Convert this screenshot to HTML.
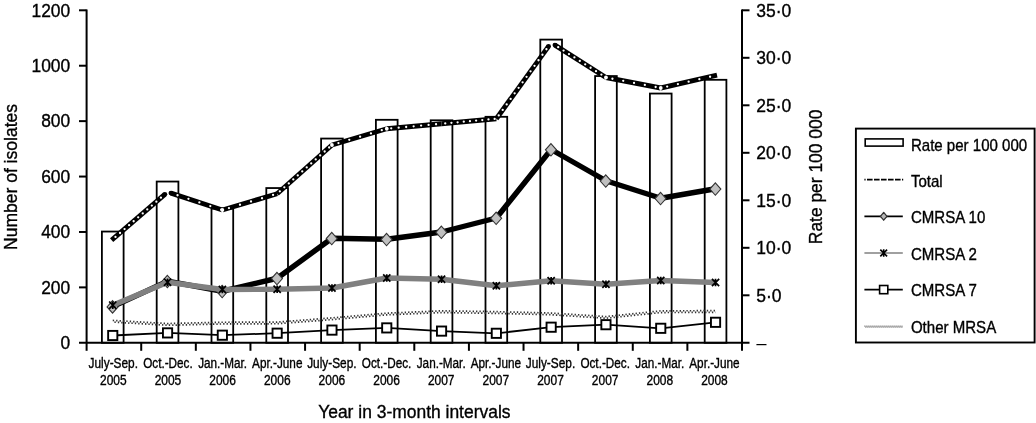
<!DOCTYPE html>
<html lang="en"><head><meta charset="utf-8"><title>MRSA isolates chart</title>
<style>
html,body{margin:0;padding:0;background:#fff;}
body{width:1036px;height:423px;overflow:hidden;}
svg{display:block;}
text{font-family:'Liberation Sans', Arial, Helvetica, sans-serif;fill:#000;stroke:#000;stroke-width:0.35px;}
svg{will-change:transform;}
</style></head><body>
<svg width="1036" height="423" viewBox="0 0 1036 423">
<rect width="1036" height="423" fill="#fff"/>

<g fill="#fff" stroke="#000" stroke-width="1.8">
<rect x="101.90" y="231.55" width="21.7" height="111.25"/>
<rect x="156.70" y="181.55" width="21.7" height="161.25"/>
<rect x="211.50" y="208.55" width="21.7" height="134.25"/>
<rect x="266.30" y="188.05" width="21.7" height="154.75"/>
<rect x="321.10" y="138.55" width="21.7" height="204.25"/>
<rect x="375.90" y="119.80" width="21.7" height="223.00"/>
<rect x="430.70" y="120.30" width="21.7" height="222.50"/>
<rect x="485.50" y="116.80" width="21.7" height="226.00"/>
<rect x="540.30" y="39.60" width="21.7" height="303.20"/>
<rect x="595.10" y="76.05" width="21.7" height="266.75"/>
<rect x="649.90" y="93.55" width="21.7" height="249.25"/>
<rect x="704.70" y="79.80" width="21.7" height="263.00"/>
</g>
<g stroke="#000" stroke-width="2" fill="none">
<path d="M86.6,9.600000000000001 V342.8"/>
<path d="M742.0,9.600000000000001 V342.8"/>
<path d="M79,342.8 H749.5"/>
<path d="M79,10.30 H86.6"/>
<path d="M79,65.72 H86.6"/>
<path d="M79,121.13 H86.6"/>
<path d="M79,176.55 H86.6"/>
<path d="M79,231.97 H86.6"/>
<path d="M79,287.38 H86.6"/>
<path d="M742.0,10.30 H749.5"/>
<path d="M742.0,57.80 H749.5"/>
<path d="M742.0,105.30 H749.5"/>
<path d="M742.0,152.80 H749.5"/>
<path d="M742.0,200.30 H749.5"/>
<path d="M742.0,247.80 H749.5"/>
<path d="M742.0,295.30 H749.5"/>
<path d="M86.60,342.8 V350.8"/>
<path d="M141.22,342.8 V350.8"/>
<path d="M195.83,342.8 V350.8"/>
<path d="M250.45,342.8 V350.8"/>
<path d="M305.07,342.8 V350.8"/>
<path d="M359.68,342.8 V350.8"/>
<path d="M414.30,342.8 V350.8"/>
<path d="M468.92,342.8 V350.8"/>
<path d="M523.53,342.8 V350.8"/>
<path d="M578.15,342.8 V350.8"/>
<path d="M632.77,342.8 V350.8"/>
<path d="M687.38,342.8 V350.8"/>
<path d="M742.00,342.8 V350.8"/>
</g>
<polyline points="112.75,320.40 167.55,323.55 222.35,322.25 277.15,322.05 331.95,317.90 386.75,313.15 441.55,310.85 496.35,311.65 551.15,313.05 605.95,316.55 660.75,310.85 715.55,310.65" fill="none" stroke="#333" stroke-width="1.7" stroke-dasharray="1.36 2.04" stroke-dashoffset="0"/>
<polyline points="112.75,322.10 167.55,325.25 222.35,323.95 277.15,323.75 331.95,319.60 386.75,314.85 441.55,312.55 496.35,313.35 551.15,314.75 605.95,318.25 660.75,312.55 715.55,312.35" fill="none" stroke="#333" stroke-width="1.7" stroke-dasharray="1.36 2.04" stroke-dashoffset="1.7"/>
<polyline points="112.75,335.50 167.55,332.90 222.35,335.20 277.15,333.20 331.95,330.10 386.75,327.90 441.55,331.10 496.35,333.30 551.15,327.20 605.95,324.70 660.75,328.30 715.55,322.30" fill="none" stroke="#000" stroke-width="1.8"/>
<rect x="108.15" y="330.90" width="9.2" height="9.2" fill="#fff" stroke="#000" stroke-width="1.9"/>
<rect x="162.95" y="328.30" width="9.2" height="9.2" fill="#fff" stroke="#000" stroke-width="1.9"/>
<rect x="217.75" y="330.60" width="9.2" height="9.2" fill="#fff" stroke="#000" stroke-width="1.9"/>
<rect x="272.55" y="328.60" width="9.2" height="9.2" fill="#fff" stroke="#000" stroke-width="1.9"/>
<rect x="327.35" y="325.50" width="9.2" height="9.2" fill="#fff" stroke="#000" stroke-width="1.9"/>
<rect x="382.15" y="323.30" width="9.2" height="9.2" fill="#fff" stroke="#000" stroke-width="1.9"/>
<rect x="436.95" y="326.50" width="9.2" height="9.2" fill="#fff" stroke="#000" stroke-width="1.9"/>
<rect x="491.75" y="328.70" width="9.2" height="9.2" fill="#fff" stroke="#000" stroke-width="1.9"/>
<rect x="546.55" y="322.60" width="9.2" height="9.2" fill="#fff" stroke="#000" stroke-width="1.9"/>
<rect x="601.35" y="320.10" width="9.2" height="9.2" fill="#fff" stroke="#000" stroke-width="1.9"/>
<rect x="656.15" y="323.70" width="9.2" height="9.2" fill="#fff" stroke="#000" stroke-width="1.9"/>
<rect x="710.95" y="317.70" width="9.2" height="9.2" fill="#fff" stroke="#000" stroke-width="1.9"/>
<polyline points="112.75,306.60 167.55,281.20 222.35,291.25 277.15,278.25 331.95,238.25 386.75,239.25 441.55,232.00 496.35,218.00 551.15,149.50 605.95,180.75 660.75,198.25 715.55,188.75" fill="none" stroke="#000" stroke-width="5.4" stroke-linejoin="round"/>
<path d="M112.55,300.70 L118.05,306.90 L112.55,313.10 L107.05,306.90 Z" fill="#c0c0c0" stroke="#333" stroke-width="1.1"/>
<path d="M167.35,275.30 L172.85,281.50 L167.35,287.70 L161.85,281.50 Z" fill="#c0c0c0" stroke="#333" stroke-width="1.1"/>
<path d="M222.15,285.35 L227.65,291.55 L222.15,297.75 L216.65,291.55 Z" fill="#c0c0c0" stroke="#333" stroke-width="1.1"/>
<path d="M276.95,272.35 L282.45,278.55 L276.95,284.75 L271.45,278.55 Z" fill="#c0c0c0" stroke="#333" stroke-width="1.1"/>
<path d="M331.75,232.35 L337.25,238.55 L331.75,244.75 L326.25,238.55 Z" fill="#c0c0c0" stroke="#333" stroke-width="1.1"/>
<path d="M386.55,233.35 L392.05,239.55 L386.55,245.75 L381.05,239.55 Z" fill="#c0c0c0" stroke="#333" stroke-width="1.1"/>
<path d="M441.35,226.10 L446.85,232.30 L441.35,238.50 L435.85,232.30 Z" fill="#c0c0c0" stroke="#333" stroke-width="1.1"/>
<path d="M496.15,212.10 L501.65,218.30 L496.15,224.50 L490.65,218.30 Z" fill="#c0c0c0" stroke="#333" stroke-width="1.1"/>
<path d="M550.95,143.60 L556.45,149.80 L550.95,156.00 L545.45,149.80 Z" fill="#c0c0c0" stroke="#333" stroke-width="1.1"/>
<path d="M605.75,174.85 L611.25,181.05 L605.75,187.25 L600.25,181.05 Z" fill="#c0c0c0" stroke="#333" stroke-width="1.1"/>
<path d="M660.55,192.35 L666.05,198.55 L660.55,204.75 L655.05,198.55 Z" fill="#c0c0c0" stroke="#333" stroke-width="1.1"/>
<path d="M715.35,182.85 L720.85,189.05 L715.35,195.25 L709.85,189.05 Z" fill="#c0c0c0" stroke="#333" stroke-width="1.1"/>
<polyline points="112.75,305.20 167.55,282.20 222.35,289.50 277.15,289.25 331.95,288.00 386.75,278.00 441.55,279.25 496.35,285.75 551.15,280.75 605.95,284.25 660.75,280.50 715.55,282.50" fill="none" stroke="#808080" stroke-width="5.4" stroke-linejoin="round"/>
<path d="M109.15,301.50 L116.35,308.90 M109.15,308.90 L116.35,301.50 M112.75,301.50 V308.90" fill="none" stroke="#000" stroke-width="1.7"/>
<path d="M163.95,278.50 L171.15,285.90 M163.95,285.90 L171.15,278.50 M167.55,278.50 V285.90" fill="none" stroke="#000" stroke-width="1.7"/>
<path d="M218.75,285.80 L225.95,293.20 M218.75,293.20 L225.95,285.80 M222.35,285.80 V293.20" fill="none" stroke="#000" stroke-width="1.7"/>
<path d="M273.55,285.55 L280.75,292.95 M273.55,292.95 L280.75,285.55 M277.15,285.55 V292.95" fill="none" stroke="#000" stroke-width="1.7"/>
<path d="M328.35,284.30 L335.55,291.70 M328.35,291.70 L335.55,284.30 M331.95,284.30 V291.70" fill="none" stroke="#000" stroke-width="1.7"/>
<path d="M383.15,274.30 L390.35,281.70 M383.15,281.70 L390.35,274.30 M386.75,274.30 V281.70" fill="none" stroke="#000" stroke-width="1.7"/>
<path d="M437.95,275.55 L445.15,282.95 M437.95,282.95 L445.15,275.55 M441.55,275.55 V282.95" fill="none" stroke="#000" stroke-width="1.7"/>
<path d="M492.75,282.05 L499.95,289.45 M492.75,289.45 L499.95,282.05 M496.35,282.05 V289.45" fill="none" stroke="#000" stroke-width="1.7"/>
<path d="M547.55,277.05 L554.75,284.45 M547.55,284.45 L554.75,277.05 M551.15,277.05 V284.45" fill="none" stroke="#000" stroke-width="1.7"/>
<path d="M602.35,280.55 L609.55,287.95 M602.35,287.95 L609.55,280.55 M605.95,280.55 V287.95" fill="none" stroke="#000" stroke-width="1.7"/>
<path d="M657.15,276.80 L664.35,284.20 M657.15,284.20 L664.35,276.80 M660.75,276.80 V284.20" fill="none" stroke="#000" stroke-width="1.7"/>
<path d="M711.95,278.80 L719.15,286.20 M711.95,286.20 L719.15,278.80 M715.55,278.80 V286.20" fill="none" stroke="#000" stroke-width="1.7"/>
<path d="M111.61,240.23 L164.82,194.35" fill="none" stroke="#000" stroke-width="4.9"/>
<circle cx="164.82" cy="194.35" r="2.45" fill="#000"/>
<path d="M170.97,193.12 L222.35,210.00" fill="none" stroke="#000" stroke-width="4.9"/>
<circle cx="170.97" cy="193.12" r="2.45" fill="#000"/>
<path d="M222.35,210.00 L277.15,193.75" fill="none" stroke="#000" stroke-width="4.9"/>
<path d="M277.15,193.75 L331.95,145.00" fill="none" stroke="#000" stroke-width="4.9"/>
<path d="M331.95,145.00 L386.75,128.75" fill="none" stroke="#000" stroke-width="4.9"/>
<path d="M386.75,128.75 L441.55,123.75" fill="none" stroke="#000" stroke-width="4.9"/>
<path d="M441.55,123.75 L496.35,118.75" fill="none" stroke="#000" stroke-width="4.9"/>
<path d="M496.35,118.75 L548.52,46.35" fill="none" stroke="#000" stroke-width="4.9"/>
<circle cx="548.52" cy="46.35" r="2.45" fill="#000"/>
<path d="M554.95,45.11 L605.95,77.50" fill="none" stroke="#000" stroke-width="4.9"/>
<circle cx="554.95" cy="45.11" r="2.45" fill="#000"/>
<path d="M605.95,77.50 L660.75,88.00" fill="none" stroke="#000" stroke-width="4.9"/>
<path d="M660.75,88.00 L717.01,75.17" fill="none" stroke="#000" stroke-width="4.9"/>
<path d="M112.75,239.25 L164.82,194.35" fill="none" stroke="#fff" stroke-width="2.3" stroke-linecap="round" stroke-dasharray="0 6" stroke-dashoffset="-3.60"/>
<path d="M170.97,193.12 L222.35,210.00" fill="none" stroke="#fff" stroke-width="2.3" stroke-linecap="round" stroke-dasharray="0 11.5" stroke-dashoffset="-6.90"/>
<path d="M222.35,210.00 L277.15,193.75" fill="none" stroke="#fff" stroke-width="2.3" stroke-linecap="round" stroke-dasharray="0 11.5" stroke-dashoffset="-6.90"/>
<path d="M277.15,193.75 L331.95,145.00" fill="none" stroke="#fff" stroke-width="2.3" stroke-linecap="round" stroke-dasharray="0 6" stroke-dashoffset="-3.60"/>
<path d="M331.95,145.00 L386.75,128.75" fill="none" stroke="#fff" stroke-width="2.3" stroke-linecap="round" stroke-dasharray="0 11.3" stroke-dashoffset="-6.78"/>
<path d="M386.75,128.75 L441.55,123.75" fill="none" stroke="#fff" stroke-width="2.3" stroke-linecap="round" stroke-dasharray="0 7.5" stroke-dashoffset="-4.50"/>
<path d="M441.55,123.75 L496.35,118.75" fill="none" stroke="#fff" stroke-width="2.3" stroke-linecap="round" stroke-dasharray="0 6.2" stroke-dashoffset="-3.72"/>
<path d="M496.35,118.75 L548.52,46.35" fill="none" stroke="#fff" stroke-width="2.3" stroke-linecap="round" stroke-dasharray="0 6.8" stroke-dashoffset="-4.08"/>
<path d="M554.95,45.11 L605.95,77.50" fill="none" stroke="#fff" stroke-width="2.3" stroke-linecap="round" stroke-dasharray="0 6.4" stroke-dashoffset="-3.84"/>
<path d="M605.95,77.50 L660.75,88.00" fill="none" stroke="#fff" stroke-width="2.3" stroke-linecap="round" stroke-dasharray="0 11" stroke-dashoffset="-6.60"/>
<path d="M660.75,88.00 L715.55,75.50" fill="none" stroke="#fff" stroke-width="2.3" stroke-linecap="round" stroke-dasharray="0 11" stroke-dashoffset="-6.60"/>
<circle cx="222.35" cy="210.00" r="1.9" fill="#fff"/>
<circle cx="331.95" cy="145.00" r="1.9" fill="#fff"/>
<circle cx="386.75" cy="128.75" r="1.9" fill="#fff"/>
<circle cx="605.95" cy="77.50" r="1.9" fill="#fff"/>
<circle cx="660.75" cy="88.00" r="1.9" fill="#fff"/>
<text x="31.49" y="16.60" font-size="18.8" textLength="38.71" lengthAdjust="spacingAndGlyphs">1200</text>
<text x="31.49" y="72.02" font-size="18.8" textLength="38.71" lengthAdjust="spacingAndGlyphs">1000</text>
<text x="41.17" y="127.43" font-size="18.8" textLength="29.03" lengthAdjust="spacingAndGlyphs">800</text>
<text x="41.17" y="182.85" font-size="18.8" textLength="29.03" lengthAdjust="spacingAndGlyphs">600</text>
<text x="41.17" y="238.27" font-size="18.8" textLength="29.03" lengthAdjust="spacingAndGlyphs">400</text>
<text x="41.17" y="293.68" font-size="18.8" textLength="29.03" lengthAdjust="spacingAndGlyphs">200</text>
<text x="60.52" y="349.10" font-size="18.8" textLength="9.68" lengthAdjust="spacingAndGlyphs">0</text>
<text x="756.2" y="16.60" font-size="18.8" textLength="35.03" lengthAdjust="spacingAndGlyphs">35·0</text>
<text x="756.2" y="64.10" font-size="18.8" textLength="35.03" lengthAdjust="spacingAndGlyphs">30·0</text>
<text x="756.2" y="111.60" font-size="18.8" textLength="35.03" lengthAdjust="spacingAndGlyphs">25·0</text>
<text x="756.2" y="159.10" font-size="18.8" textLength="35.03" lengthAdjust="spacingAndGlyphs">20·0</text>
<text x="756.2" y="206.60" font-size="18.8" textLength="35.03" lengthAdjust="spacingAndGlyphs">15·0</text>
<text x="756.2" y="254.10" font-size="18.8" textLength="35.03" lengthAdjust="spacingAndGlyphs">10·0</text>
<text x="756.2" y="301.60" font-size="18.8" textLength="25.29" lengthAdjust="spacingAndGlyphs">5·0</text>
<text x="756.6" y="349.3" font-size="17.8" style="stroke-width:0.15px">–</text>
<text transform="translate(17.0,250) rotate(-90)" font-size="19" textLength="146" lengthAdjust="spacingAndGlyphs">Number of isolates</text>
<text transform="translate(821.9,244.2) rotate(-90)" font-size="19" textLength="134.6" lengthAdjust="spacingAndGlyphs">Rate per 100 000</text>
<text x="318.2" y="417.9" font-size="18.3" textLength="192.3" lengthAdjust="spacingAndGlyphs">Year in 3-month intervals</text>
<text x="88.60" y="368.2" font-size="13.8" textLength="49.400000000000006" lengthAdjust="spacingAndGlyphs">July-Sep.</text>
<text x="100.00" y="384.5" font-size="13.8" textLength="26.6" lengthAdjust="spacingAndGlyphs">2005</text>
<text x="143.20" y="368.2" font-size="13.8" textLength="49.5" lengthAdjust="spacingAndGlyphs">Oct.-Dec.</text>
<text x="154.65" y="384.5" font-size="13.8" textLength="26.6" lengthAdjust="spacingAndGlyphs">2005</text>
<text x="198.15" y="368.2" font-size="13.8" textLength="48.900000000000006" lengthAdjust="spacingAndGlyphs">Jan.-Mar.</text>
<text x="209.30" y="384.5" font-size="13.8" textLength="26.6" lengthAdjust="spacingAndGlyphs">2006</text>
<text x="252.05" y="368.2" font-size="13.8" textLength="50.400000000000006" lengthAdjust="spacingAndGlyphs">Apr.-June</text>
<text x="263.95" y="384.5" font-size="13.8" textLength="26.6" lengthAdjust="spacingAndGlyphs">2006</text>
<text x="307.20" y="368.2" font-size="13.8" textLength="49.400000000000006" lengthAdjust="spacingAndGlyphs">July-Sep.</text>
<text x="318.60" y="384.5" font-size="13.8" textLength="26.6" lengthAdjust="spacingAndGlyphs">2006</text>
<text x="361.80" y="368.2" font-size="13.8" textLength="49.5" lengthAdjust="spacingAndGlyphs">Oct.-Dec.</text>
<text x="373.25" y="384.5" font-size="13.8" textLength="26.6" lengthAdjust="spacingAndGlyphs">2006</text>
<text x="416.75" y="368.2" font-size="13.8" textLength="48.900000000000006" lengthAdjust="spacingAndGlyphs">Jan.-Mar.</text>
<text x="427.90" y="384.5" font-size="13.8" textLength="26.6" lengthAdjust="spacingAndGlyphs">2007</text>
<text x="470.65" y="368.2" font-size="13.8" textLength="50.400000000000006" lengthAdjust="spacingAndGlyphs">Apr.-June</text>
<text x="482.55" y="384.5" font-size="13.8" textLength="26.6" lengthAdjust="spacingAndGlyphs">2007</text>
<text x="525.80" y="368.2" font-size="13.8" textLength="49.400000000000006" lengthAdjust="spacingAndGlyphs">July-Sep.</text>
<text x="537.20" y="384.5" font-size="13.8" textLength="26.6" lengthAdjust="spacingAndGlyphs">2007</text>
<text x="580.40" y="368.2" font-size="13.8" textLength="49.5" lengthAdjust="spacingAndGlyphs">Oct.-Dec.</text>
<text x="591.85" y="384.5" font-size="13.8" textLength="26.6" lengthAdjust="spacingAndGlyphs">2007</text>
<text x="635.35" y="368.2" font-size="13.8" textLength="48.900000000000006" lengthAdjust="spacingAndGlyphs">Jan.-Mar.</text>
<text x="646.50" y="384.5" font-size="13.8" textLength="26.6" lengthAdjust="spacingAndGlyphs">2008</text>
<text x="689.25" y="368.2" font-size="13.8" textLength="50.400000000000006" lengthAdjust="spacingAndGlyphs">Apr.-June</text>
<text x="701.15" y="384.5" font-size="13.8" textLength="26.6" lengthAdjust="spacingAndGlyphs">2008</text>
<rect x="855.9" y="128.6" width="178.7" height="213.9" fill="#fff" stroke="#000" stroke-width="1.9"/>
<rect x="865.2" y="138.9" width="37.9" height="7.2" fill="#fff" stroke="#000" stroke-width="1.6"/>
<path d="M864.4,179.7 H903.1999999999999" stroke="#000" stroke-width="1.7" stroke-dasharray="5.6 1.4" stroke-dashoffset="4.4"/>
<path d="M864.4,216.3 H902.8" stroke="#000" stroke-width="1.7"/>
<path d="M883.7,212.4 L887.0,216.3 L883.7,220.20000000000002 L880.4000000000001,216.3 Z" fill="#b8b8b8" stroke="#333" stroke-width="1.3" stroke-linejoin="round"/>
<path d="M864.4,253.0 H902.8" stroke="#808080" stroke-width="1.7"/>
<path d="M880.3000000000001,249.6 L887.1,256.4 M880.3000000000001,256.4 L887.1,249.6 M883.7,249.29999999999998 V256.7" fill="none" stroke="#000" stroke-width="1.6"/>
<path d="M864.4,289.6 H902.8" stroke="#000" stroke-width="1.7"/>
<rect x="879.6" y="285.5" width="8.2" height="8.2" fill="#fff" stroke="#000" stroke-width="1.6"/>
<polyline points="864.4,326.1 902.8,326.1" fill="none" stroke="#444" stroke-width="1" stroke-dasharray="1 1"/>
<polyline points="864.4,327.1 902.8,327.1" fill="none" stroke="#444" stroke-width="1" stroke-dasharray="1 1" stroke-dashoffset="1"/>
<text x="910.9" y="150.60" font-size="16.2" textLength="116.31" lengthAdjust="spacingAndGlyphs">Rate per 100 000</text>
<text x="910.9" y="187.00" font-size="16.2" textLength="31.79" lengthAdjust="spacingAndGlyphs">Total</text>
<text x="910.9" y="223.40" font-size="16.2" textLength="74.44" lengthAdjust="spacingAndGlyphs">CMRSA 10</text>
<text x="910.9" y="259.80" font-size="16.2" textLength="66.07" lengthAdjust="spacingAndGlyphs">CMRSA 2</text>
<text x="910.9" y="296.20" font-size="16.2" textLength="66.07" lengthAdjust="spacingAndGlyphs">CMRSA 7</text>
<text x="910.9" y="332.60" font-size="16.2" textLength="85.30" lengthAdjust="spacingAndGlyphs">Other MRSA</text>
</svg></body></html>
